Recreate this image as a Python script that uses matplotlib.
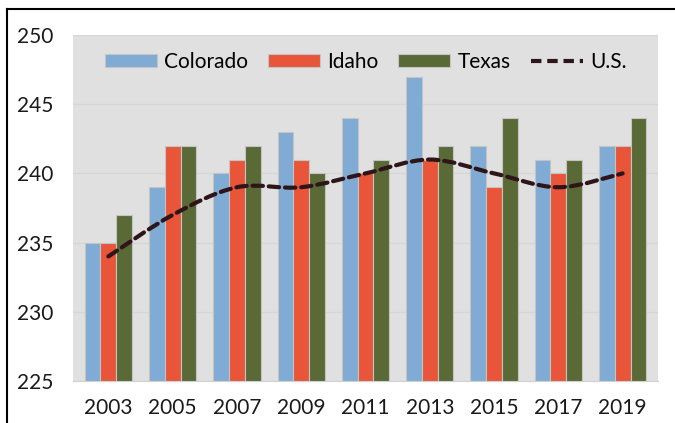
import matplotlib.pyplot as plt
import numpy as np
from matplotlib.path import Path
from matplotlib.patches import PathPatch
from matplotlib.lines import Line2D

plt.rcParams['font.family'] = ['Lato', 'DejaVu Sans']

# data
years = ['2003', '2005', '2007', '2009', '2011', '2013', '2015', '2017', '2019']
colorado = [235, 239, 240, 243, 244, 247, 242, 241, 242]
idaho = [235, 242, 241, 241, 240, 241, 239, 240, 242]
texas = [237, 242, 242, 240, 241, 242, 244, 241, 244]
us = [234, 237, 239, 239, 240, 241, 240, 239, 240]

c_co = '#80abd4'
c_id = '#e95538'
c_tx = '#5a6a36'
c_us = '#2e1519'

fig = plt.figure(figsize=(6.75, 4.23), dpi=100)
ax = fig.add_axes([73/675, 1-381/423, (658-73)/675, (381-35)/423])
ax.set_facecolor('#e0e0e0')

x = np.arange(len(years))
w = 0.245
edge = dict(edgecolor='#c4c4c4', linewidth=0.8)
ax.bar(x - w, colorado, w, color=c_co, label='Colorado', zorder=2, **edge)
ax.bar(x, idaho, w, color=c_id, label='Idaho', zorder=2, **edge)
ax.bar(x + w, texas, w, color=c_tx, label='Texas', zorder=2, **edge)

# smoothed U.S. line (bezier through the data points)
pts = np.column_stack([x, us]).astype(float)
verts = [pts[0]]
codes = [Path.MOVETO]
n = len(pts)
for i in range(n - 1):
    p0 = pts[i - 1] if i > 0 else pts[i]
    p1 = pts[i]
    p2 = pts[i + 1]
    p3 = pts[i + 2] if i + 2 < n else pts[i + 1]
    verts += [p1 + (p2 - p0) / 6, p2 - (p3 - p1) / 6, p2]
    codes += [Path.CURVE4] * 3
dash = (0, (2.5, 1.4))
ax.add_patch(PathPatch(Path(verts, codes), fill=False, edgecolor=c_us, lw=3,
                       linestyle=dash, capstyle='round', zorder=3))

ax.set_ylim(225, 250)
ax.set_xlim(-0.55, len(years) - 0.45)
ax.set_yticks(range(225, 251, 5))
ax.set_xticks(x)
ax.set_xticklabels(years)
ax.yaxis.grid(True, color='#d6d6d6', lw=1, zorder=0)
ax.tick_params(length=0, labelsize=15, colors='#1a1a1a')
ax.tick_params(axis='y', pad=14)
ax.tick_params(axis='x', pad=12)
for s in ax.spines.values():
    s.set_visible(False)
ax.spines['bottom'].set_visible(True)
ax.spines['bottom'].set_color('#d0d0d0')

handles, labels = ax.get_legend_handles_labels()
handles.append(Line2D([0], [0], color=c_us, lw=3, linestyle=dash))
labels.append('U.S.')
ax.legend(handles, labels, ncol=4, loc='upper center', bbox_to_anchor=(0.5, 1.005),
          frameon=False, fontsize=15, handlelength=2.5, handleheight=0.55,
          columnspacing=0.95, handletextpad=0.35)

# outer frame
fig.add_artist(Line2D([7/675, 7/675], [0, 1-9/423], color='black', lw=1.5))
fig.add_artist(Line2D([7/675, 1], [1-9/423, 1-9/423], color='black', lw=1.5))

fig.savefig('out.png', dpi=100)
